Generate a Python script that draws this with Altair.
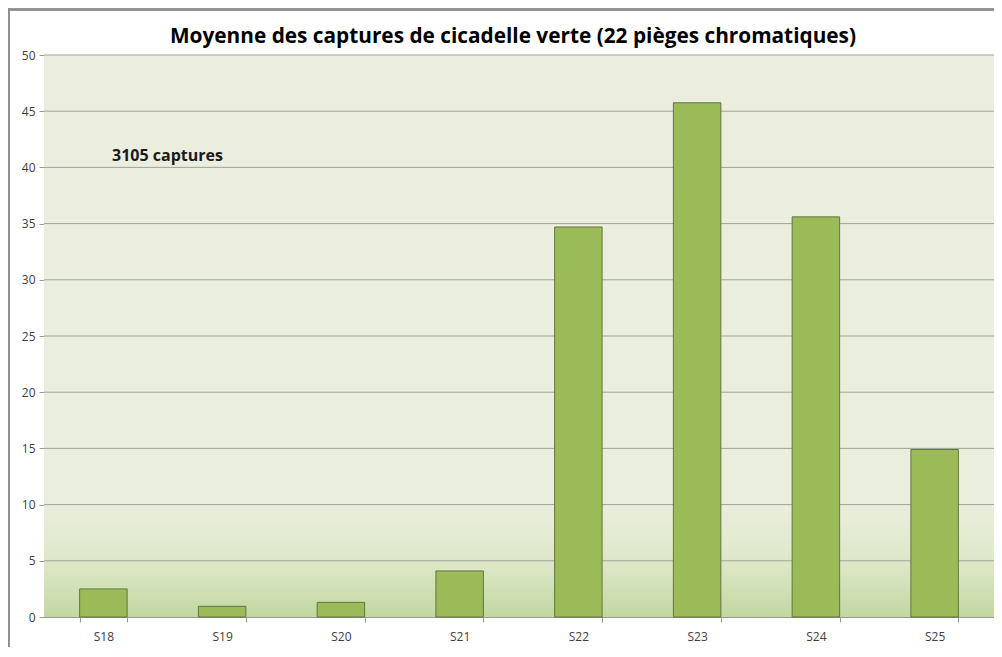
import altair as alt
import pandas as pd

weeks = ["S18", "S19", "S20", "S21", "S22", "S23", "S24", "S25"]
moyennes = [2.5, 0.95, 1.3, 4.1, 34.7, 45.75, 35.6, 14.9]
title_text = ["Moyenne des captures de cicadelle verte (22 pièges chromatiques)"]
annot_text = ["3105 captures"]
annot_y = [41.0]
y_ticks = [0, 5, 10, 15, 20, 25, 30, 35, 40, 45, 50]

W, H = 950, 562

df = pd.DataFrame({"semaine": weeks, "moyenne": moyennes})
ann = pd.DataFrame({"label": annot_text, "y": annot_y})
grid_df = pd.DataFrame({"v": y_ticks[1:]})
title_df = pd.DataFrame({"t": title_text})

FONT = "Open Sans"

xscale = alt.Scale(domain=weeks, paddingInner=0.6, paddingOuter=0.3)
yscale = alt.Scale(domain=[0, 50], nice=False)

grad = alt.LinearGradient(
    gradient="linear",
    stops=[
        alt.GradientStop(color="#EBEEDF", offset=0),
        alt.GradientStop(color="#EAEEDD", offset=0.8),
        alt.GradientStop(color="#DCE7C6", offset=0.91),
        alt.GradientStop(color="#C2D7A0", offset=1),
    ],
    x1=0, x2=0, y1=0, y2=1,
)

background = alt.Chart(df).mark_rect(fill=grad).encode(
    x=alt.value(0), x2=alt.value(W), y=alt.value(0), y2=alt.value(H)
)

border = alt.Chart(df).mark_rect(fill=None, stroke="#8C8C8C", strokeWidth=1.5).encode(
    x=alt.value(-35.5), x2=alt.value(W + 40), y=alt.value(-45.5), y2=alt.value(H + 60)
)

grid = alt.Chart(grid_df).mark_rule(color="#A0A496", strokeWidth=1).encode(
    y=alt.Y("v:Q", scale=yscale),
    x=alt.value(0),
    x2=alt.value(W),
)

bars = alt.Chart(df).mark_bar(
    color="#9BBB59", stroke="#5A6E33", strokeWidth=1, strokeOpacity=0.9
).encode(
    x=alt.X(
        "semaine:N",
        scale=xscale,
        sort=weeks,
        axis=alt.Axis(
            title=None,
            labelAngle=0,
            labelFont=FONT,
            labelFontSize=12,
            labelColor="#404040",
            labelPadding=9,
            domainColor="#9A9A9A",
            tickColor="#9A9A9A",
            tickSize=5,
            tickBand="extent",
            grid=False,
        ),
    ),
    y=alt.Y(
        "moyenne:Q",
        scale=yscale,
        axis=alt.Axis(
            title=None,
            values=y_ticks,
            labelFont=FONT,
            labelFontSize=12,
            labelColor="#404040",
            labelPadding=4,
            domainColor="#9A9A9A",
            tickColor="#9A9A9A",
            tickSize=5,
            grid=False,
        ),
    ),
)

text = alt.Chart(ann).mark_text(
    align="left", baseline="middle", font=FONT, fontSize=16, fontWeight="bold", color="#1A1A1A"
).encode(
    x=alt.value(68),
    y=alt.Y("y:Q", scale=yscale),
    text="label:N",
)

title = alt.Chart(title_df).mark_text(
    align="center", baseline="alphabetic", font=FONT, fontSize=20.8, fontWeight="bold", color="#000000"
).encode(
    x=alt.value(469),
    y=alt.value(-12),
    text="t:N",
)

chart = alt.layer(border, background, grid, bars, text, title).properties(
    width=W,
    height=H,
    autosize=alt.AutoSizeParams(type="none"),
    padding={"left": 36, "top": 47, "right": 0, "bottom": 30},
).configure_view(stroke=None)

chart.save("out.html", embed_options={"renderer": "svg", "actions": False})
